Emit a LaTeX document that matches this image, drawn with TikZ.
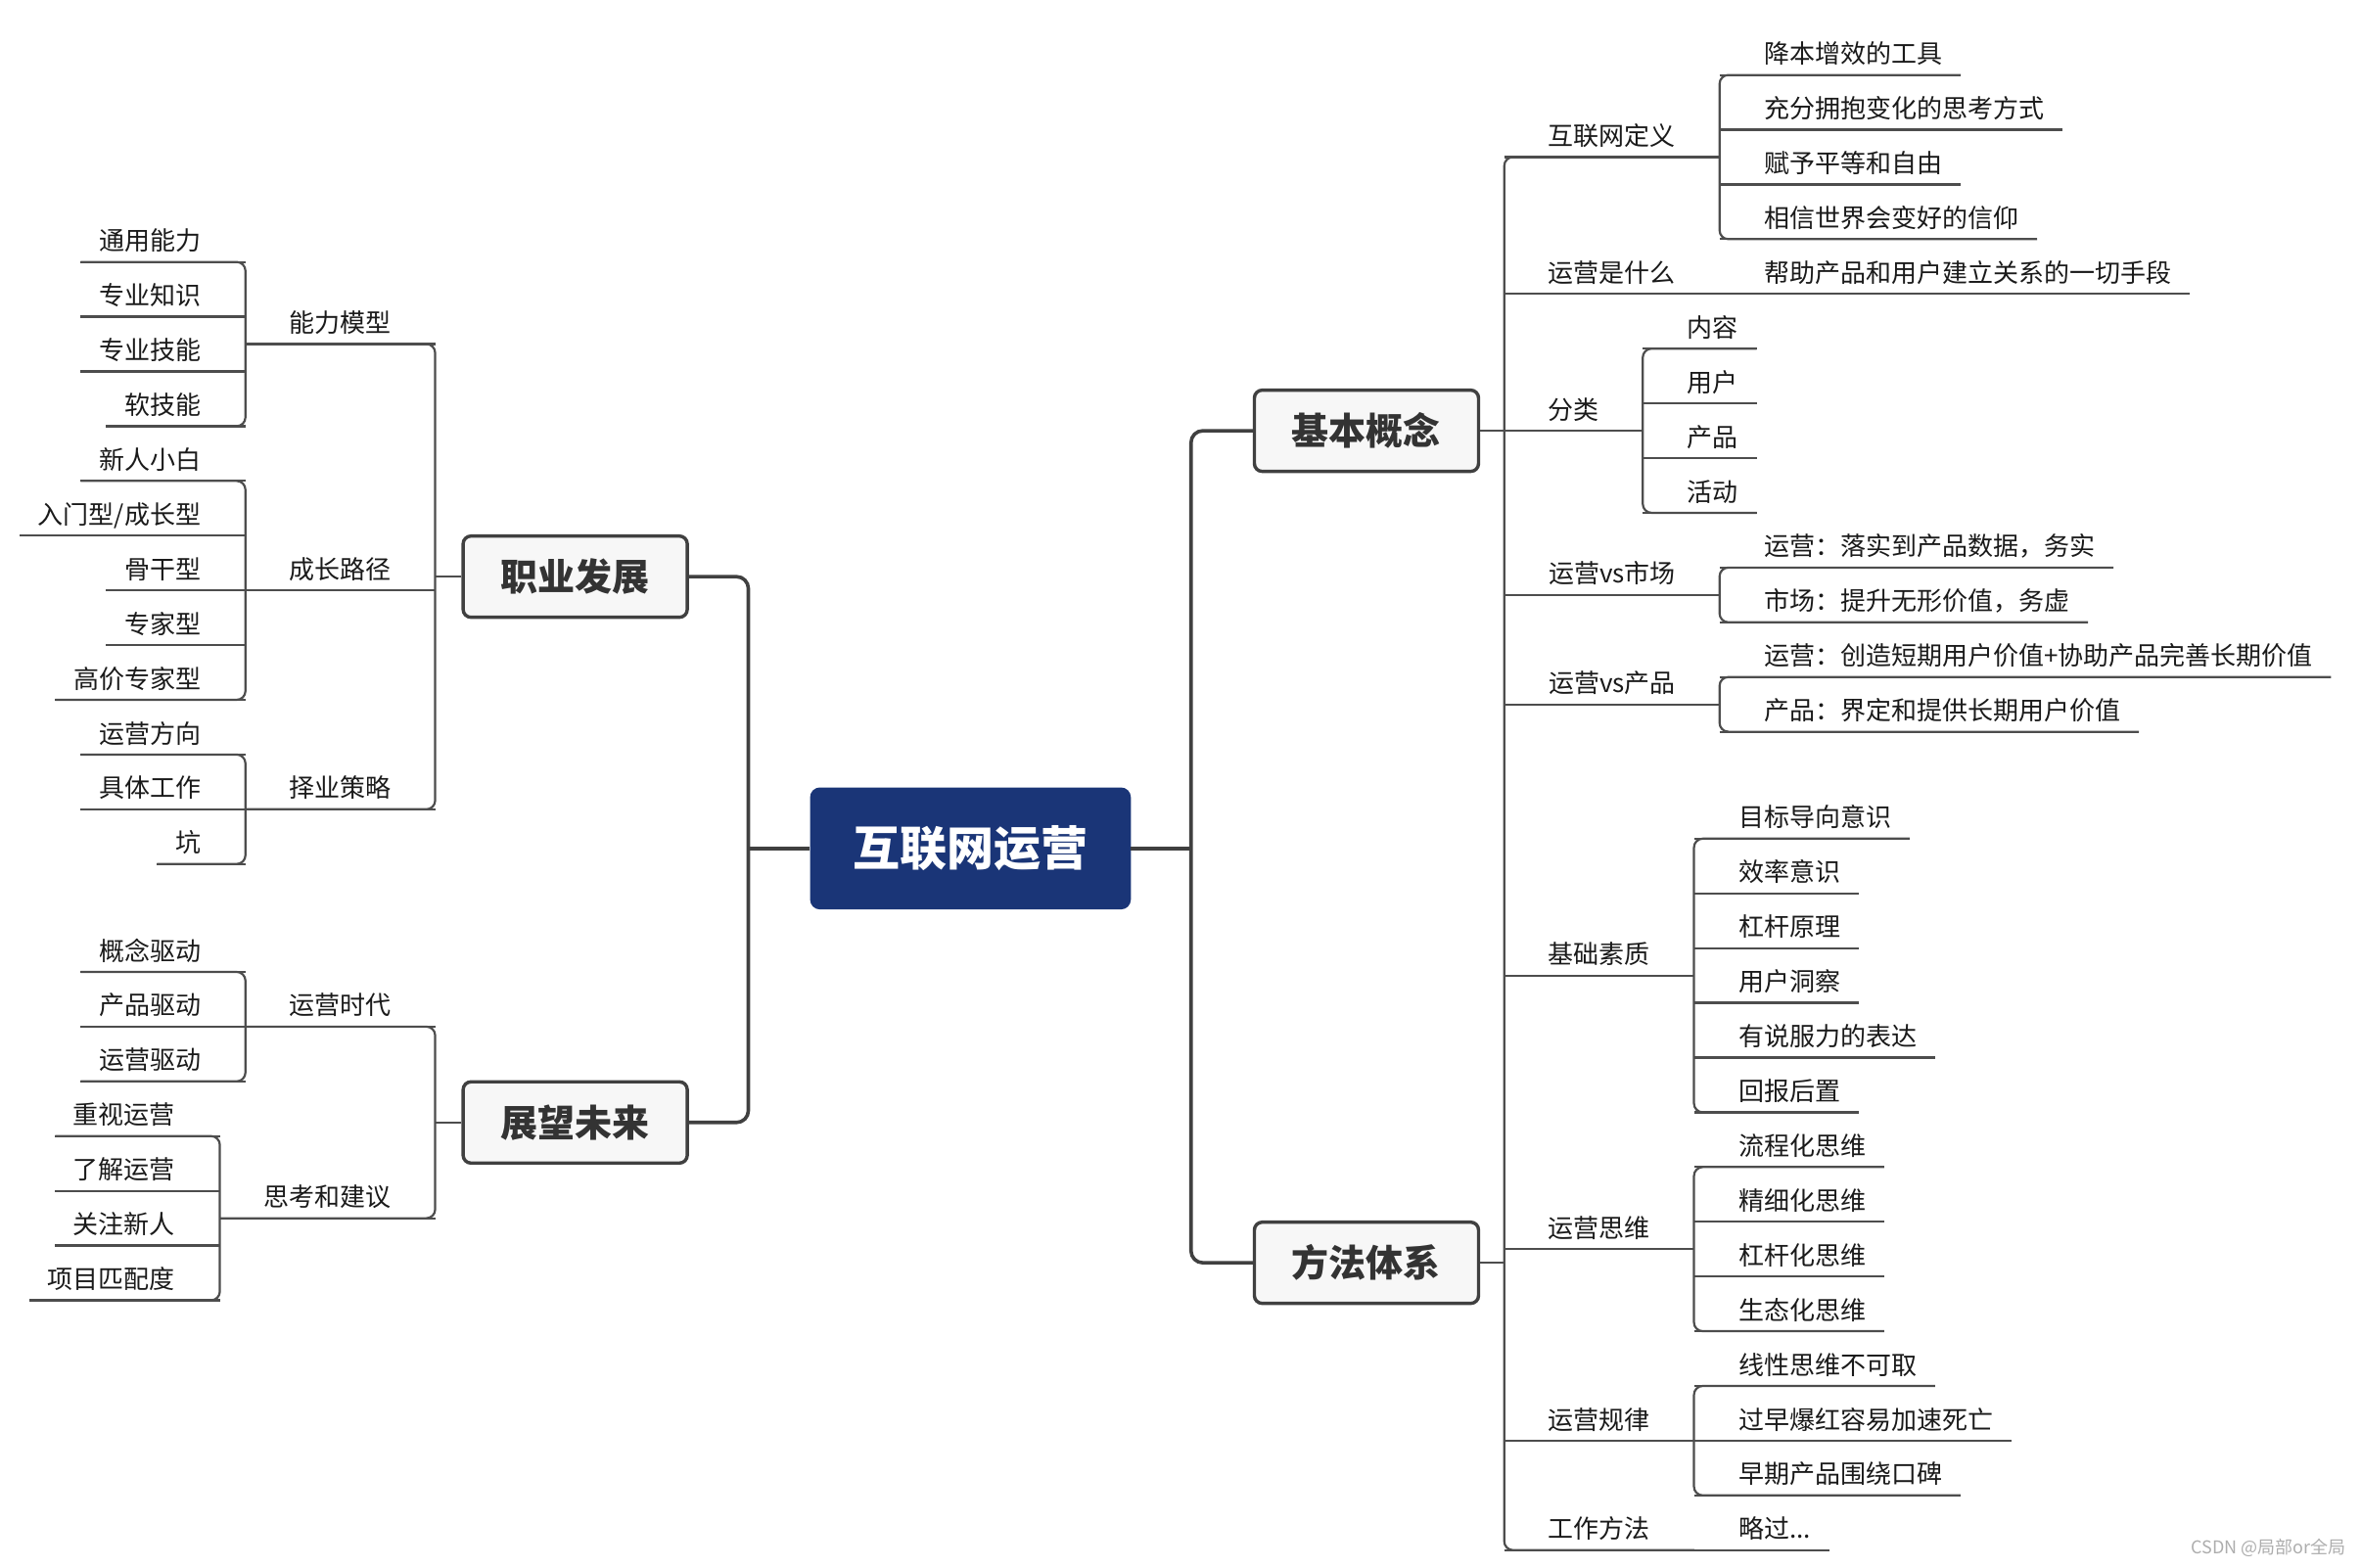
\documentclass[tikz,border=0pt]{standalone}
\usepackage{fontspec}
\setmainfont{Noto Sans CJK SC}
\definecolor{lnc}{HTML}{4D4D4D}
\definecolor{mainc}{HTML}{404040}
\definecolor{boxfill}{HTML}{F7F7F7}
\definecolor{ctfill}{HTML}{1A3577}
\definecolor{txc}{HTML}{1A1A1A}
\definecolor{mtxc}{HTML}{333333}
\newcommand\grpL[2]{\draw[ln, rounded corners=9pt] (#1.south west) -- (#1.south east) -- (#2.south east) -- (#2.south west);}
\newcommand\grpR[2]{\draw[ln, rounded corners=9pt] (#1.south east) -- (#1.south west) -- (#2.south west) -- (#2.south east);}
\begin{document}
\begin{tikzpicture}[x=1.53827pt,y=-1.53827pt,
  txt/.style={font=\fontsize{26pt}{30pt}\selectfont, text=txc, inner xsep=0pt, inner ysep=0pt, text height=22pt, text depth=11.7pt, minimum height=0pt},
  leafL/.style={txt, anchor=south east, execute at begin node={\hspace*{18.5pt}}, execute at end node={\hspace*{45.4pt}}},
  leafR/.style={txt, anchor=south west, execute at begin node={\hspace*{45.4pt}}, execute at end node={\hspace*{18.5pt}}},
  midL/.style={txt, anchor=south east, minimum width=#1},
  midR/.style={txt, anchor=south west, minimum width=#1},
  mainbox/.style={draw=mainc, line width=3.4pt, fill=boxfill, rounded corners=8pt, minimum width=229pt, minimum height=83pt, inner sep=0pt, text=mtxc, font=\fontsize{38pt}{42pt}\selectfont\bfseries},
  ctbox/.style={fill=ctfill, rounded corners=10pt, minimum width=327.7pt, minimum height=124.6pt, inner sep=0pt, text=white, font=\fontsize{48pt}{52pt}\selectfont\bfseries},
  ln/.style={draw=lnc, line width=2.2pt},
  mainln/.style={draw=mainc, line width=3.6pt},
  wmark/.style={font=\fontsize{18pt}{20pt}\selectfont, text=black!32, inner sep=0pt, anchor=east}
]
\useasboundingbox (0,0) rectangle (1568,1041.3);

% ---------- center and main nodes ----------
\node[ctbox] (ct) at (644.5,563.5) {互联网运营};
\node[mainbox] (zy) at (382,383) {职业发展};
\node[mainbox] (zw) at (382,745.5) {展望未来};
\node[mainbox] (jb) at (907.5,286.1) {基本概念};
\node[mainbox] (ff) at (907.5,838.7) {方法体系};
\coordinate (lv) at (497,563.5);
\coordinate (rv) at (791,563.5);

% ---------- left: level 2 ----------
\node[midL=193.8pt] (pa) at (289,228.5) {能力模型};
\node[midL=193.8pt] (pb) at (289,392.1) {成长路径};
\node[midL=193.8pt] (pc) at (289,537.5) {择业策略};
\node[midL=193.8pt] (pd) at (289,681.85) {运营时代};
\node[midL=220pt] (pe) at (289,809.1) {思考和建议};

% ---------- left: leaves ----------
\node[leafL] (a1) at (163,174) {通用能力};
\node[leafL] (a2) at (163,210.35) {专业知识};
\node[leafL] (a3) at (163,246.7) {专业技能};
\node[leafL] (a4) at (163,283.05) {软技能};
\node[leafL] (b1) at (163,319.4) {新人小白};
\node[leafL] (b2) at (163,355.75) {入门型/成长型};
\node[leafL] (b3) at (163,392.1) {骨干型};
\node[leafL] (b4) at (163,428.45) {专家型};
\node[leafL] (b5) at (163,464.8) {高价专家型};
\node[leafL] (c1) at (163,501.15) {运营方向};
\node[leafL] (c2) at (163,537.5) {具体工作};
\node[leafL] (c3) at (163,573.85) {坑};
\node[leafL] (d1) at (163,645.5) {概念驱动};
\node[leafL] (d2) at (163,681.85) {产品驱动};
\node[leafL] (d3) at (163,718.2) {运营驱动};
\node[leafL] (e1) at (146,754.55) {重视运营};
\node[leafL] (e2) at (146,790.9) {了解运营};
\node[leafL] (e3) at (146,827.25) {关注新人};
\node[leafL] (e4) at (146,863.6) {项目匹配度};

% ---------- right: level 2 ----------
\node[midR=220pt] (qa) at (999,104.3) {互联网定义};
\node[midR=220pt] (qb) at (999,195.2) {运营是什么};
\node[midR=141.5pt] (qc) at (999,286.1) {分类};
\node[midR=220pt] (qd) at (999,395.1) {运营vs市场};
\node[midR=220pt] (qe) at (999,467.8) {运营vs产品};
\node[midR=193.8pt] (qf) at (999,647.9) {基础素质};
\node[midR=193.8pt] (qg) at (999,829.6) {运营思维};
\node[midR=193.8pt] (qh) at (999,956.85) {运营规律};
\node[midR=193.8pt] (qi) at (999,1029.55) {工作方法};

% ---------- right: leaves ----------
\node[leafR] (ra1) at (1142,49.8) {降本增效的工具};
\node[leafR] (ra2) at (1142,86.15) {充分拥抱变化的思考方式};
\node[leafR] (ra3) at (1142,122.5) {赋予平等和自由};
\node[leafR] (ra4) at (1142,158.85) {相信世界会变好的信仰};
\node[leafR] (rb1) at (1142,195.2) {帮助产品和用户建立关系的一切手段};
\node[leafR] (rc1) at (1091,231.55) {内容};
\node[leafR] (rc2) at (1091,267.9) {用户};
\node[leafR] (rc3) at (1091,304.25) {产品};
\node[leafR] (rc4) at (1091,340.6) {活动};
\node[leafR] (rd1) at (1142,376.95) {运营：落实到产品数据，务实};
\node[leafR] (rd2) at (1142,413.3) {市场：提升无形价值，务虚};
\node[leafR] (re1) at (1142,449.65) {运营：创造短期用户价值+协助产品完善长期价值};
\node[leafR] (re2) at (1142,486.0) {产品：界定和提供长期用户价值};
\node[leafR] (rf1) at (1125,557) {目标导向意识};
\node[leafR] (rf2) at (1125,593.35) {效率意识};
\node[leafR] (rf3) at (1125,629.7) {杠杆原理};
\node[leafR] (rf4) at (1125,666.05) {用户洞察};
\node[leafR] (rf5) at (1125,702.4) {有说服力的表达};
\node[leafR] (rf6) at (1125,738.75) {回报后置};
\node[leafR] (rg1) at (1125,775.1) {流程化思维};
\node[leafR] (rg2) at (1125,811.45) {精细化思维};
\node[leafR] (rg3) at (1125,847.8) {杠杆化思维};
\node[leafR] (rg4) at (1125,884.15) {生态化思维};
\node[leafR] (rh1) at (1125,920.5) {线性思维不可取};
\node[leafR] (rh2) at (1125,956.85) {过早爆红容易加速死亡};
\node[leafR] (rh3) at (1125,993.2) {早期产品围绕口碑};
\node[leafR] (ri1) at (1125,1029.55) {略过...};

\node[wmark] (wm) at (1558,1028) {CSDN @局部or全局};

% ---------- main connectors ----------
\draw[mainln] (ct.west) -- (lv);
\draw[mainln] (ct.east) -- (rv);
\draw[mainln, rounded corners=12pt] (zy.east) -- (zy.east -| lv) -- (zw.east -| lv) -- (zw.east);
\draw[mainln, rounded corners=12pt] (jb.west) -- (jb.west -| rv) -- (ff.west -| rv) -- (ff.west);

% ---------- main node to level 2 ----------
\draw[ln] (zy.west) -- (zy.west -| pa.south east);
\draw[ln] (zw.west) -- (zw.west -| pd.south east);
\draw[ln] (jb.east) -- (jb.east -| qa.south west);
\draw[ln] (ff.east) -- (ff.east -| qf.south west);

% ---------- underlines ----------
\foreach \n in {pa,pb,pc,pd,pe,a1,a2,a3,a4,b1,b2,b3,b4,b5,c1,c2,c3,d1,d2,d3,e1,e2,e3,e4,
  qa,qb,qc,qd,qe,qf,qg,qh,qi,ra1,ra2,ra3,ra4,rb1,rc1,rc2,rc3,rc4,rd1,rd2,re1,re2,
  rf1,rf2,rf3,rf4,rf5,rf6,rg1,rg2,rg3,rg4,rh1,rh2,rh3,ri1}
  {\draw[ln] (\n.south west) -- (\n.south east);}

% ---------- brackets ----------
\grpL{pa}{pc}
\grpL{pd}{pe}
\grpL{a1}{a4}
\grpL{b1}{b5}
\grpL{c1}{c3}
\grpL{d1}{d3}
\grpL{e1}{e4}
\grpR{qa}{qi}
\grpR{ra1}{ra4}
\grpR{rc1}{rc4}
\grpR{rd1}{rd2}
\grpR{re1}{re2}
\grpR{rf1}{rf6}
\grpR{rg1}{rg4}
\grpR{rh1}{rh3}
\end{tikzpicture}
\end{document}
